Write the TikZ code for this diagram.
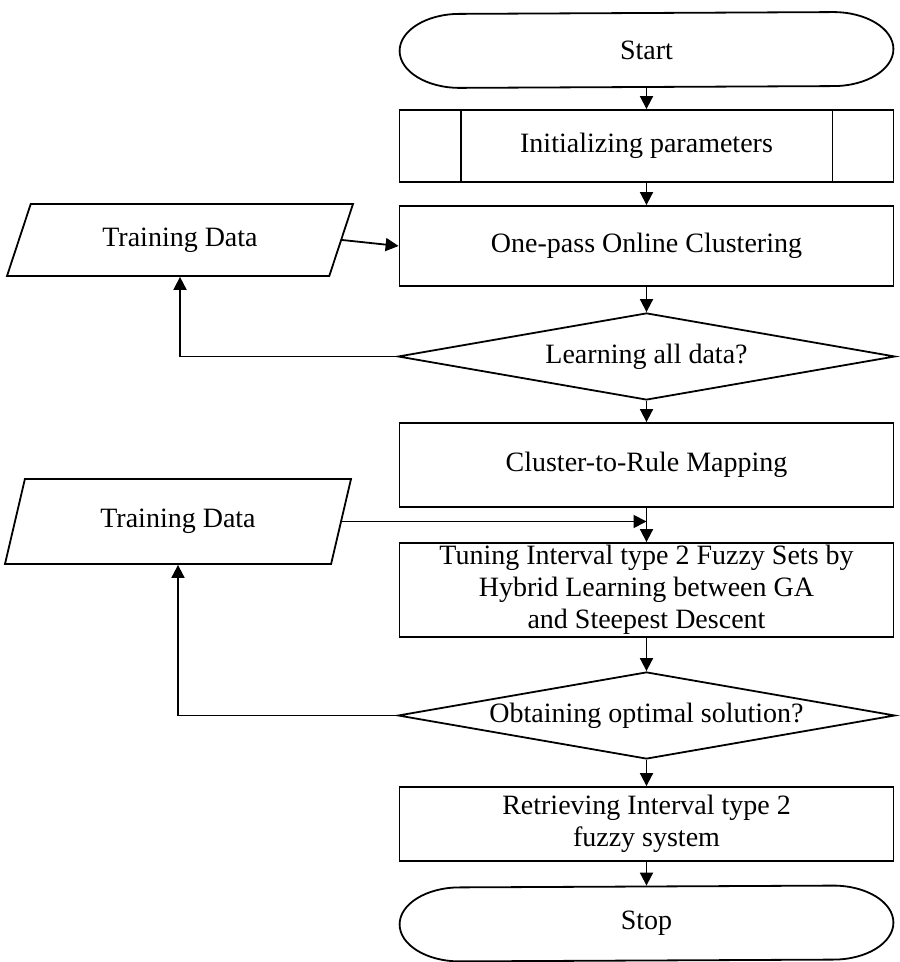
\documentclass[tikz,border=0pt]{standalone}
\usepackage{fontspec}
\setmainfont{Liberation Serif}
\usetikzlibrary{shapes.geometric,arrows.meta}
\begin{document}
\begin{tikzpicture}[x=0.5pt, y=0.5pt, >={Triangle[length=6.5pt,width=6.5pt]}, line width=0.9pt,
		font=\fontsize{14}{16}\selectfont,
		box/.style={draw, minimum width=247pt, align=center, inner sep=0pt},
		terminal/.style={minimum width=186pt, minimum height=37pt, inner sep=0pt},
		decision/.style={diamond, draw, aspect=5.7, inner sep=0pt, minimum width=248.5pt, minimum height=43.5pt},
		data/.style={trapezium, trapezium stretches body=true, draw, minimum width=173pt, inner sep=0pt}]
		\useasboundingbox (0,0) rectangle (899,962);
		% main column
		\node[terminal] (start) at (646.5,912) {Start};
		\node[box, minimum height=36pt] (init) at (646.5,816) {Initializing parameters};
		\node[box, minimum height=40pt] (onepass) at (646.5,716) {One-pass Online Clustering};
		\node[decision] (learn) at (646.5,605.5) {Learning all data?};
		\node[box, minimum height=42pt] (mapping) at (646.5,497) {Cluster-to-Rule Mapping};
		\node[box, minimum height=47pt] (tuning) at (646.5,372) {Tuning Interval type 2 Fuzzy Sets by\\Hybrid Learning between GA\\and Steepest Descent};
		\node[decision] (optimal) at (646.5,246.5) {Obtaining optimal solution?};
		\node[box, minimum height=37pt] (retrieve) at (646.5,138) {Retrieving Interval type 2\\fuzzy system};
		\node[terminal] (stop) at (646.5,38.5) {Stop};
		% inputs
		\node[data, trapezium left angle=46, trapezium right angle=134, minimum height=36pt] (data1) at (180,722) {Training Data};
		\node[data, trapezium left angle=51, trapezium right angle=129, minimum height=42.5pt] (data2) at (178,440.5) {Training Data};
		\coordinate (join) at (mapping.south |- data2.east);
		% outlines
		\foreach \n in {start,stop}
			\draw (\n.north east) arc[start angle=90, end angle=-90, x radius=30pt, y radius=18.5pt]
				-- (\n.south west) arc[start angle=270, end angle=90, x radius=30pt, y radius=18.5pt] -- cycle;
		\draw ([xshift=31pt]init.north west) -- ([xshift=31pt]init.south west);
		\draw ([xshift=-31pt]init.north east) -- ([xshift=-31pt]init.south east);
		% arrows
		\draw[->] (start) -- (init);
		\draw[->] (init) -- (onepass);
		\draw[->] (onepass) -- (learn);
		\draw[->] (learn) -- (mapping);
		\draw[->] (mapping) -- (tuning);
		\draw[->] (tuning) -- (optimal);
		\draw[->] (optimal) -- (retrieve);
		\draw[->] (retrieve) -- (stop);
		\draw[->] (data1.east) -- (onepass.west);
		\draw[->] (data2.east) -- (join);
		\draw[->] (learn.west) -| (data1);
		\draw[->] (optimal.west) -| (data2);
	\end{tikzpicture}
\end{document}
